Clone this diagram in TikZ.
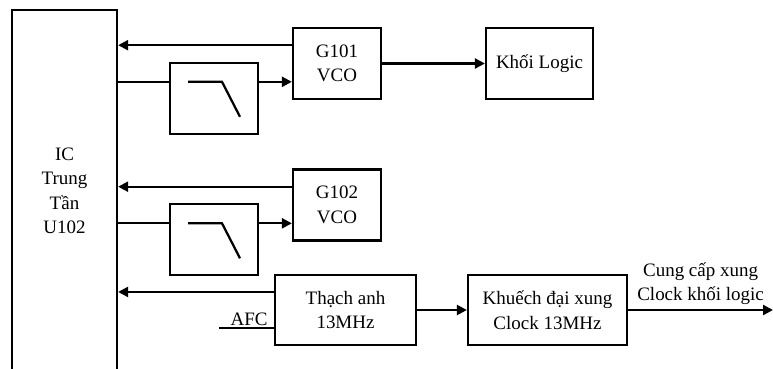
\documentclass[tikz,border=0pt]{standalone}
\usepackage{fontspec}
\setmainfont{Liberation Serif}
\usepackage{tikz}
\usetikzlibrary{positioning,arrows.meta,calc}

\begin{document}
\begin{tikzpicture}[font=\fontsize{13.5pt}{17.4pt}\selectfont,
  khoi/.style={draw, line width=1.6pt, align=center, inner sep=0pt,
    minimum width=2.2cm, minimum height=1.775cm},
  muiten/.style={-{Triangle[length=2.5mm,width=2.5mm]}, line width=1.6pt},
  noi/.style={line width=1.6pt}]
  \useasboundingbox (0,0) rectangle (19.325,9.2);
  \clip (0,0) rectangle (19.325,9.2);
  % khoi chinh
  \node[khoi, minimum width=2.625cm, minimum height=9.05cm] (ic) at (1.6125,4.425) {IC\\Trung\\Tần\\U102};
  \node[khoi] (g101) at (8.425,7.6125) {G101\\VCO};
  \node[khoi, minimum width=2.675cm] (logic) at (13.4875,7.6125) {Khối Logic};
  \node[khoi] (loc1) at (5.35,6.7375) {};
  \node[khoi] (g102) at (8.425,4.075) {G102\\VCO};
  \node[khoi] (loc2) at (5.35,3.2125) {};
  \node[khoi, minimum width=3.525cm, minimum height=1.75cm] (thach) at (8.6375,1.45) {Thạch anh\\13MHz};
  \node[khoi, minimum width=3.975cm, minimum height=1.75cm] (khuech) at (13.6875,1.45) {Khuếch đại xung\\Clock 13MHz};
  % diem noi
  \coordinate (a1) at ($(g101.north west)!0.25!(g101.south west)$);
  \coordinate (b1) at ($(g101.north west)!0.75!(g101.south west)$);
  \coordinate (a2) at ($(g102.north west)!0.25!(g102.south west)$);
  \coordinate (b2) at ($(g102.north west)!0.75!(g102.south west)$);
  \coordinate (a3) at ($(thach.north west)!0.25!(thach.south west)$);
  \coordinate (b3) at ($(thach.north west)!0.75!(thach.south west)$);
  \coordinate (afc) at ($(b3)+(-1.375,0)$);
  \coordinate (ra) at (19.325,1.45);
  % nhanh G101
  \draw[muiten] (a1) -- (a1 -| ic.east);
  \draw[noi] (b1 -| ic.east) -- (b1 -| loc1.west);
  \draw[muiten] (b1 -| loc1.east) -- (b1);
  \draw[noi] ($(b1 -| loc1.center)+(-0.65,0)$) -- ++(0.85,0) -- ++(0.45,-0.875);
  \draw[muiten] (g101.east) -- (logic.west);
  % nhanh G102
  \draw[muiten] (a2) -- (a2 -| ic.east);
  \draw[noi] (b2 -| ic.east) -- (b2 -| loc2.west);
  \draw[muiten] (b2 -| loc2.east) -- (b2);
  \draw[noi] ($(b2 -| loc2.center)+(-0.65,0)$) -- ++(0.85,0) -- ++(0.45,-0.875);
  % thach anh
  \draw[muiten] (a3) -- (a3 -| ic.east);
  \draw[noi] (afc) -- node[above, inner sep=1pt, pos=0.55]{AFC} (b3);
  \draw[muiten] (thach.east) -- (khuech.west);
  \draw[muiten] (khuech.east) -- node[above, align=center, inner sep=3pt]{Cung cấp xung\\Clock khối logic} (ra);
\end{tikzpicture}
\end{document}
